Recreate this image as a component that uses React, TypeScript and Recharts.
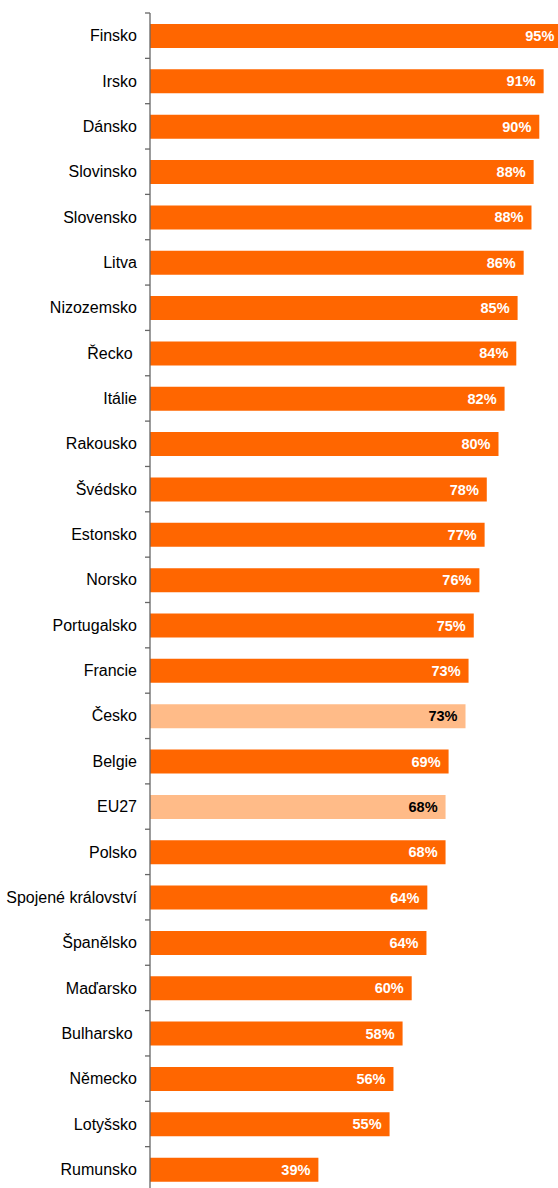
import React from 'react';
import { BarChart, Bar, XAxis, YAxis, Cell, LabelList } from 'recharts';

const countries = [
  'Finsko', 'Irsko', 'Dánsko', 'Slovinsko', 'Slovensko', 'Litva', 'Nizozemsko', 'Řecko ',
  'Itálie', 'Rakousko', 'Švédsko', 'Estonsko', 'Norsko', 'Portugalsko', 'Francie', 'Česko',
  'Belgie', 'EU27', 'Polsko', 'Spojené království', 'Španělsko', 'Maďarsko', 'Bulharsko ',
  'Německo', 'Lotyšsko', 'Rumunsko',
];

const values = [
  95.0, 90.7, 89.7, 88.4, 87.9, 86.1, 84.7, 84.4,
  81.7, 80.3, 77.6, 77.1, 75.9, 74.6, 73.4, 72.7,
  68.8, 68.1, 68.1, 63.9, 63.7, 60.3, 58.2,
  56.1, 55.2, 38.8,
];

const highlighted = ['Česko', 'EU27'];

const data = countries.map((name, i) => ({ name, value: values[i] }));

const MAIN = '#FF6600';
const LIGHT = '#FFBB88';
const FONT = '"Liberation Sans", Arial, sans-serif';

const CHART_W = 584;
const CHART_H = 1192;
const TOP = 13;
const PITCH = (CHART_H - TOP) / countries.length;

const CategoryTick = (props: any) => {
  const { x, y, payload, index } = props;
  const ax = x + 13;
  return (
    <g>
      <text
        x={x}
        y={y}
        dy="0.35em"
        textAnchor="end"
        fontSize={16}
        fontFamily={FONT}
        fill="#000"
        style={{ whiteSpace: 'pre' }}
      >
        {payload.value}
      </text>
      <line x1={ax - 5} x2={ax} y1={y - PITCH / 2} y2={y - PITCH / 2} stroke="#666" strokeWidth={1.3} />
      {index === countries.length - 1 && (
        <line x1={ax - 5} x2={ax} y1={y + PITCH / 2} y2={y + PITCH / 2} stroke="#666" strokeWidth={1.3} />
      )}
    </g>
  );
};

const ValueLabel = (props: any) => {
  const { x, y, width, height, value, index } = props;
  const isHi = highlighted.includes(countries[index]);
  return (
    <text
      x={x + width - 8}
      y={y + height / 2}
      dy="0.35em"
      textAnchor="end"
      fontSize={14.5}
      fontWeight="bold"
      fontFamily={FONT}
      fill={isHi ? '#000' : '#fff'}
    >
      {Math.round(value)}%
    </text>
  );
};

export default function App() {
  return (
    <div style={{ position: 'absolute', left: 0, top: 0, width: 558, height: 1188, overflow: 'hidden', background: '#fff' }}>
      <BarChart
        width={CHART_W}
        height={CHART_H}
        data={data}
        layout="vertical"
        margin={{ top: TOP, right: 0, bottom: 0, left: 0 }}
      >
        <XAxis type="number" domain={[0, 100]} hide />
        <YAxis
          type="category"
          dataKey="name"
          width={150}
          tickSize={5}
          tickMargin={8}
          tickLine={false}
          axisLine={{ stroke: '#666', strokeWidth: 1.3 }}
          tick={<CategoryTick />}
          interval={0}
        />
        <Bar dataKey="value" barSize={24} isAnimationActive={false}>
          {data.map((d) => (
            <Cell key={d.name} fill={highlighted.includes(d.name) ? LIGHT : MAIN} />
          ))}
          <LabelList dataKey="value" content={<ValueLabel />} />
        </Bar>
      </BarChart>
    </div>
  );
}
